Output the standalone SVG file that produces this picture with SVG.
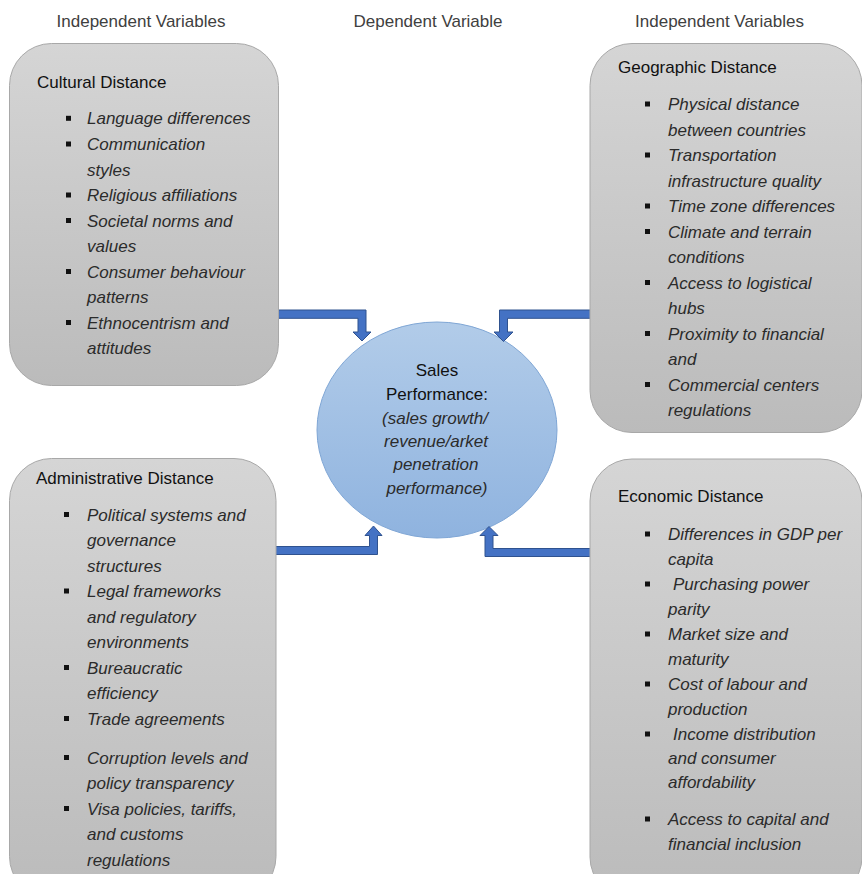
<svg xmlns="http://www.w3.org/2000/svg" width="862" height="874" viewBox="0 0 862 874">
<defs>
<linearGradient id="gBox" x1="0" y1="0" x2="0" y2="1">
<stop offset="0" stop-color="#d5d5d5"/>
<stop offset="1" stop-color="#bbbbbb"/>
</linearGradient>
<linearGradient id="gCirc" x1="0" y1="0" x2="0" y2="1">
<stop offset="0" stop-color="#b2cce9"/>
<stop offset="1" stop-color="#8fb3df"/>
</linearGradient>
</defs>
<style>
text{font-family:"Liberation Sans",Arial,sans-serif;font-size:17px}
.hdr{fill:#404040;text-anchor:middle}
.ttl{fill:#111}
.it{font-style:italic;fill:#2b2b2b}
.box{fill:url(#gBox);stroke:#a8a8a8;stroke-width:1}
.blt{fill:#111}
.arr{fill:#4472c4;stroke:#2f528f;stroke-width:1}
.ct{text-anchor:middle}
</style>
<rect width="862" height="874" fill="#ffffff"/>

<g id="headers">
<text class="hdr" x="141" y="26.5">Independent Variables</text>
<text class="hdr" x="428" y="26.5">Dependent Variable</text>
<text class="hdr" x="719.5" y="26.5">Independent Variables</text>
</g>

<g id="sales-performance">
<ellipse cx="437" cy="430" rx="120" ry="108" fill="url(#gCirc)" stroke="#7fa6d5" stroke-width="1"/>
<text class="ct ttl" x="437" y="376">Sales</text>
<text class="ct ttl" x="437" y="400">Performance:</text>
<text class="ct it" x="435" y="423.5">(sales growth/</text>
<text class="ct it" x="436" y="447">revenue/arket</text>
<text class="ct it" x="436" y="470">penetration</text>
<text class="ct it" x="437" y="493.5">performance)</text>
</g>

<g id="connectors">
<polygon class="arr" points="270,310 366,310 366,332 371,332 362,341 353,332 358,332 358,318.3 270,318.3"/>
<polygon class="arr" points="598,310 499.5,310 499.5,332 494,332 503.5,341.5 513,332 507.5,332 507.5,318.3 598,318.3"/>
<polygon class="arr" points="270,546.5 369.5,546.5 369.5,535.5 365,535.5 373.5,526 382,535.5 377.5,535.5 377.5,554.5 270,554.5"/>
<polygon class="arr" points="598,548.5 493,548.5 493,535.5 498,535.5 489,526.5 480,535.5 485,535.5 485,556.5 598,556.5"/>
</g>

<g id="cultural-distance">
<rect class="box" x="9.5" y="43.5" width="269" height="342" rx="42" ry="42"/>
<text class="ttl" x="37" y="88">Cultural Distance</text>
<rect class="blt" x="66" y="115.8" width="5" height="5"/>
<text class="it" x="87" y="124.3">Language differences</text>
<rect class="blt" x="66" y="141.5" width="5" height="5"/>
<text class="it" x="87" y="150">Communication</text>
<text class="it" x="87" y="175.5">styles</text>
<rect class="blt" x="66" y="192.5" width="5" height="5"/>
<text class="it" x="87" y="201">Religious affiliations</text>
<rect class="blt" x="66" y="218" width="5" height="5"/>
<text class="it" x="87" y="226.5">Societal norms and</text>
<text class="it" x="87" y="252">values</text>
<rect class="blt" x="66" y="269" width="5" height="5"/>
<text class="it" x="87" y="277.5">Consumer behaviour</text>
<text class="it" x="87" y="303">patterns</text>
<rect class="blt" x="66" y="320" width="5" height="5"/>
<text class="it" x="87" y="328.5">Ethnocentrism and</text>
<text class="it" x="87" y="354">attitudes</text>
</g>

<g id="geographic-distance">
<rect class="box" x="590" y="43.5" width="272" height="389" rx="42" ry="42"/>
<text class="ttl" x="618" y="73">Geographic Distance</text>
<rect class="blt" x="645" y="101.5" width="5" height="5"/>
<text class="it" x="668" y="110">Physical distance</text>
<text class="it" x="668" y="135.5">between countries</text>
<rect class="blt" x="645" y="152.5" width="5" height="5"/>
<text class="it" x="668" y="161">Transportation</text>
<text class="it" x="668" y="186.5">infrastructure quality</text>
<rect class="blt" x="645" y="203.5" width="5" height="5"/>
<text class="it" x="668" y="212">Time zone differences</text>
<rect class="blt" x="645" y="229" width="5" height="5"/>
<text class="it" x="668" y="237.5">Climate and terrain</text>
<text class="it" x="668" y="263">conditions</text>
<rect class="blt" x="645" y="280" width="5" height="5"/>
<text class="it" x="668" y="288.5">Access to logistical</text>
<text class="it" x="668" y="314">hubs</text>
<rect class="blt" x="645" y="331" width="5" height="5"/>
<text class="it" x="668" y="339.5">Proximity to financial</text>
<text class="it" x="668" y="365">and</text>
<rect class="blt" x="645" y="382" width="5" height="5"/>
<text class="it" x="668" y="390.5">Commercial centers</text>
<text class="it" x="668" y="416">regulations</text>
</g>

<g id="administrative-distance">
<rect class="box" x="9.5" y="458.5" width="266.5" height="440" rx="42" ry="42"/>
<text class="ttl" x="36" y="483.5">Administrative Distance</text>
<rect class="blt" x="64" y="512" width="5" height="5"/>
<text class="it" x="87" y="520.5">Political systems and</text>
<text class="it" x="87" y="546">governance</text>
<text class="it" x="87" y="571.5">structures</text>
<rect class="blt" x="64" y="588.5" width="5" height="5"/>
<text class="it" x="87" y="597">Legal frameworks</text>
<text class="it" x="87" y="622.5">and regulatory</text>
<text class="it" x="87" y="648">environments</text>
<rect class="blt" x="64" y="665" width="5" height="5"/>
<text class="it" x="87" y="673.5">Bureaucratic</text>
<text class="it" x="87" y="699">efficiency</text>
<rect class="blt" x="64" y="716" width="5" height="5"/>
<text class="it" x="87" y="724.5">Trade agreements</text>
<rect class="blt" x="64" y="755" width="5" height="5"/>
<text class="it" x="87" y="763.5">Corruption levels and</text>
<text class="it" x="87" y="789">policy transparency</text>
<rect class="blt" x="64" y="806" width="5" height="5"/>
<text class="it" x="87" y="814.5">Visa policies, tariffs,</text>
<text class="it" x="87" y="840">and customs</text>
<text class="it" x="87" y="865.5">regulations</text>
</g>

<g id="economic-distance">
<rect class="box" x="590" y="459" width="272" height="440" rx="42" ry="42"/>
<text class="ttl" x="618" y="501.5">Economic Distance</text>
<rect class="blt" x="645" y="531.5" width="5" height="5"/>
<text class="it" x="668" y="540">Differences in GDP per</text>
<text class="it" x="668" y="565">capita</text>
<rect class="blt" x="645" y="581.5" width="5" height="5"/>
<text class="it" x="673" y="590">Purchasing power</text>
<text class="it" x="668" y="615">parity</text>
<rect class="blt" x="645" y="631.5" width="5" height="5"/>
<text class="it" x="668" y="640">Market size and</text>
<text class="it" x="668" y="665">maturity</text>
<rect class="blt" x="645" y="681.5" width="5" height="5"/>
<text class="it" x="668" y="690">Cost of labour and</text>
<text class="it" x="668" y="715">production</text>
<rect class="blt" x="645" y="731.5" width="5" height="5"/>
<text class="it" x="673" y="740">Income distribution</text>
<text class="it" x="668" y="764">and consumer</text>
<text class="it" x="668" y="788">affordability</text>
<rect class="blt" x="645" y="816.5" width="5" height="5"/>
<text class="it" x="668" y="825">Access to capital and</text>
<text class="it" x="668" y="850">financial inclusion</text>
</g>
</svg>
